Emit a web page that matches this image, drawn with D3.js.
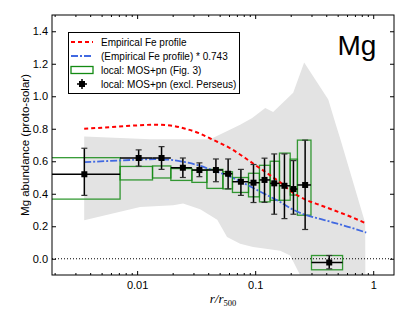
<!DOCTYPE html>
<html>
<head>
<meta charset="utf-8">
<script src="https://cdn.jsdelivr.net/npm/d3@7"></script>
<style>
body { margin: 0; background: #fff; }
svg text { font-family: "Liberation Sans", Arial, sans-serif; }
</style>
</head>
<body>
<svg id="chart"></svg>
<script>
var svg_width = 415, svg_height = 313;
var plotLeft = 52, plotRight = 394, plotTop = 15, plotBottom = 275;

// bins of the local measurements (r/r500)
var binLo = [0.001, 0.00717, 0.0135, 0.0193, 0.0291, 0.039, 0.0533, 0.0642, 0.0878, 0.1087, 0.134, 0.1606, 0.198, 0.228, 0.30];
var binHi = [0.00717, 0.0135, 0.0193, 0.0291, 0.039, 0.0533, 0.0642, 0.0878, 0.1087, 0.134, 0.1606, 0.198, 0.228, 0.297, 0.55];

// local: MOS+pn (excl. Perseus)
var ptR = [0.00357, 0.0103, 0.0161, 0.0244, 0.0337, 0.0465, 0.059, 0.0757, 0.0968, 0.120, 0.145, 0.177, 0.211, 0.265, 0.424];
var ptMg = [0.52, 0.62, 0.62, 0.56, 0.546, 0.546, 0.523, 0.474, 0.468, 0.485, 0.464, 0.449, 0.429, 0.454, -0.023];
var ptMgLo = [0.39, 0.57, 0.55, 0.50, 0.505, 0.474, 0.43, 0.39, 0.346, 0.347, 0.274, 0.247, 0.274, 0.18, -0.062];
var ptMgHi = [0.68, 0.67, 0.69, 0.62, 0.59, 0.614, 0.614, 0.55, 0.58, 0.619, 0.645, 0.645, 0.604, 0.73, 0.02];

// local: MOS+pn (Fig. 3)
var boxLo = [0.367, 0.485, 0.497, 0.482, 0.47, 0.433, 0.43, 0.408, 0.381, 0.35, 0.36, 0.36, 0.392, 0.268, -0.068];
var boxHi = [0.622, 0.568, 0.571, 0.555, 0.545, 0.55, 0.535, 0.50, 0.526, 0.575, 0.60, 0.65, 0.613, 0.73, 0.02];

// empirical Fe profile and the scaled one
var feR = [0.00356, 0.0059, 0.0096, 0.0142, 0.0191, 0.0256, 0.0342, 0.0416, 0.0477, 0.0614, 0.0823, 0.1, 0.1265, 0.163, 0.206, 0.265, 0.356, 0.458, 0.638, 0.873];
var feMg = [0.80, 0.81, 0.82, 0.825, 0.82, 0.80, 0.77, 0.74, 0.72, 0.68, 0.62, 0.577, 0.526, 0.47, 0.41, 0.365, 0.33, 0.30, 0.26, 0.217];
var feScaled = [0.594, 0.602, 0.609, 0.613, 0.609, 0.594, 0.572, 0.550, 0.535, 0.505, 0.461, 0.429, 0.391, 0.349, 0.305, 0.271, 0.245, 0.223, 0.193, 0.161];

// grey scatter band
var bandUpR = [0.00356, 0.0129, 0.0416, 0.0746, 0.0944, 0.1217, 0.142, 0.210, 0.260, 0.416, 0.477, 0.525, 0.855, 0.86];
var bandUp = [0.752, 0.735, 0.735, 0.825, 0.866, 0.928, 0.903, 1.021, 1.207, 0.98, 0.837, 0.74, 0.22, -0.3];
var bandLoR = [0.00356, 0.0106, 0.0202, 0.0245, 0.0342, 0.0477, 0.0578, 0.0746, 0.096, 0.163, 0.198, 0.240, 0.26];
var bandLo = [0.237, 0.319, 0.33, 0.34, 0.305, 0.24, 0.134, 0.093, 0.072, 0.05, 0.02, -0.1, -0.3];

var yTicks = [0, 0.2, 0.4, 0.6, 0.8, 1.0, 1.2, 1.4];
var xTicks = [0.01, 0.1, 1];

var x = d3.scaleLog().domain([0.0019, 1.5]).range([plotLeft, plotRight]);
var y = d3.scaleLinear().domain([-0.1, 1.5]).range([plotBottom, plotTop]);

var svg = d3.select("#chart")
	.attr("width", svg_width)
	.attr("height", svg_height);

svg.append("clipPath").attr("id", "plotclip")
	.append("rect")
	.attr("x", plotLeft).attr("y", plotTop)
	.attr("width", plotRight - plotLeft).attr("height", plotBottom - plotTop);

var plot = svg.append("g").attr("clip-path", "url(#plotclip)");

// grey band
var band = [];
for (var i = 0; i < bandUpR.length; i++) band.push([bandUpR[i], bandUp[i]]);
for (var i = bandLoR.length - 1; i >= 0; i--) band.push([bandLoR[i], bandLo[i]]);

var line = d3.line()
	.x(function (d) { return x(d[0]) })
	.y(function (d) { return y(d[1]) });

plot.append("path")
	.datum(band)
	.attr("fill", "#e3e3e3")
	.attr("stroke", "none")
	.attr("d", function (d) { return line(d) + "Z" });

// zero line
plot.append("line")
	.attr("x1", plotLeft).attr("x2", plotRight)
	.attr("y1", y(0)).attr("y2", y(0))
	.attr("stroke", "#000")
	.attr("stroke-width", 1)
	.attr("stroke-dasharray", "1,2");

// green boxes
plot.selectAll(".box")
	.data(binLo)
	.enter().append("rect")
	.attr("class", "box")
	.attr("x", function (d, i) { return x(binLo[i]) })
	.attr("width", function (d, i) { return x(binHi[i]) - x(binLo[i]) })
	.attr("y", function (d, i) { return y(boxHi[i]) })
	.attr("height", function (d, i) { return y(boxLo[i]) - y(boxHi[i]) })
	.attr("fill", "none")
	.attr("stroke", "#138a13")
	.attr("stroke-opacity", 0.85)
	.attr("stroke-width", 1.3);

// Fe profiles
var feLine = d3.line()
	.x(function (d, i) { return x(feR[i]) })
	.y(function (d) { return y(d) })
	.curve(d3.curveMonotoneX);

plot.append("path")
	.datum(feMg)
	.attr("fill", "none")
	.attr("stroke", "#ff0000")
	.attr("stroke-width", 2)
	.attr("stroke-dasharray", "4,3")
	.attr("d", feLine);

plot.append("path")
	.datum(feScaled)
	.attr("fill", "none")
	.attr("stroke", "#4169e1")
	.attr("stroke-width", 1.8)
	.attr("stroke-dasharray", "7,2,2,2")
	.attr("d", feLine);

// black error bars
var pts = plot.selectAll(".pt")
	.data(ptR)
	.enter().append("g")
	.attr("class", "pt");

pts.append("line")
	.attr("x1", function (d, i) { return x(binLo[i]) })
	.attr("x2", function (d, i) { return x(binHi[i]) })
	.attr("y1", function (d, i) { return y(ptMg[i]) })
	.attr("y2", function (d, i) { return y(ptMg[i]) })
	.attr("stroke", "#000").attr("stroke-width", 1.5);

pts.append("line")
	.attr("x1", function (d) { return x(d) })
	.attr("x2", function (d) { return x(d) })
	.attr("y1", function (d, i) { return y(ptMgLo[i]) })
	.attr("y2", function (d, i) { return y(ptMgHi[i]) })
	.attr("stroke", "#000").attr("stroke-width", 1.5);

[ptMgLo, ptMgHi].forEach(function (arr) {
	pts.append("line")
		.attr("x1", function (d) { return x(d) - 3 })
		.attr("x2", function (d) { return x(d) + 3 })
		.attr("y1", function (d, i) { return y(arr[i]) })
		.attr("y2", function (d, i) { return y(arr[i]) })
		.attr("stroke", "#333").attr("stroke-width", 1.2);
});

pts.append("rect")
	.attr("x", function (d) { return x(d) - 3 })
	.attr("y", function (d, i) { return y(ptMg[i]) - 3 })
	.attr("width", 6).attr("height", 6)
	.attr("fill", "#000");

// axes, ticks pointing inward
var minor = x.ticks().filter(function (t) { return xTicks.indexOf(t) < 0 });
var fmt = d3.format(".1f");

svg.append("g")
	.attr("transform", "translate(0," + plotBottom + ")")
	.call(d3.axisBottom(x).tickValues(xTicks).tickSize(-4).tickPadding(6).tickFormat(function (d) { return d }))
	.call(function (g) { g.select(".domain").remove() });
svg.append("g")
	.attr("transform", "translate(0," + plotBottom + ")")
	.call(d3.axisBottom(x).tickValues(minor).tickSize(-2).tickFormat(""))
	.call(function (g) { g.select(".domain").remove() });
svg.append("g")
	.attr("transform", "translate(0," + plotTop + ")")
	.call(d3.axisTop(x).tickValues(xTicks).tickSize(-4).tickFormat(""))
	.call(function (g) { g.select(".domain").remove() });
svg.append("g")
	.attr("transform", "translate(0," + plotTop + ")")
	.call(d3.axisTop(x).tickValues(minor).tickSize(-2).tickFormat(""))
	.call(function (g) { g.select(".domain").remove() });
svg.append("g")
	.attr("transform", "translate(" + plotLeft + ",0)")
	.call(d3.axisLeft(y).tickValues(yTicks).tickSize(-4).tickPadding(4).tickFormat(fmt))
	.call(function (g) { g.select(".domain").remove() });
svg.append("g")
	.attr("transform", "translate(" + plotRight + ",0)")
	.call(d3.axisRight(y).tickValues(yTicks).tickSize(-4).tickFormat(""))
	.call(function (g) { g.select(".domain").remove() });

svg.selectAll(".tick text")
	.attr("font-size", 11)
	.attr("font-family", "Liberation Sans, Arial, sans-serif")
	.attr("fill", "#000");
svg.selectAll(".tick line").attr("stroke", "#000");

svg.append("rect")
	.attr("x", plotLeft).attr("y", plotTop)
	.attr("width", plotRight - plotLeft).attr("height", plotBottom - plotTop)
	.attr("fill", "none")
	.attr("stroke", "#000")
	.attr("stroke-width", 1);

// labels
svg.append("text")
	.attr("transform", "translate(25," + ((plotTop + plotBottom) / 2) + ") rotate(-90)")
	.attr("text-anchor", "middle")
	.attr("dy", "0.35em")
	.attr("font-size", 11.5)
	.text("Mg abundance (proto-solar)");

var xl = svg.append("text")
	.attr("x", (plotLeft + plotRight) / 2)
	.attr("y", 303)
	.attr("text-anchor", "middle")
	.style("font-family", "'Liberation Serif', 'DejaVu Serif', serif")
	.attr("font-size", 13);
xl.append("tspan").attr("font-style", "italic").text("r/r");
xl.append("tspan").attr("font-size", 8.5).attr("dy", 3).text("500");

svg.append("text")
	.attr("x", 357)
	.attr("y", 55)
	.attr("text-anchor", "middle")
	.attr("font-size", 28)
	.text("Mg");

// legend
var lg = svg.append("g");
lg.append("rect")
	.attr("x", 68.5).attr("y", 32.5)
	.attr("width", 171).attr("height", 61)
	.attr("fill", "#fff")
	.attr("stroke", "#000")
	.attr("stroke-width", 1);

var legendLabels = ["Empirical Fe profile", "(Empirical Fe profile) * 0.743", "local: MOS+pn (Fig. 3)", "local: MOS+pn (excl. Perseus)"];
var ly = [42, 56, 70, 84];

lg.append("line")
	.attr("x1", 71).attr("x2", 93).attr("y1", ly[0]).attr("y2", ly[0])
	.attr("stroke", "#ff0000").attr("stroke-width", 2).attr("stroke-dasharray", "4,3");
lg.append("line")
	.attr("x1", 71).attr("x2", 93).attr("y1", ly[1]).attr("y2", ly[1])
	.attr("stroke", "#4169e1").attr("stroke-width", 1.8).attr("stroke-dasharray", "7,2,2,2");
lg.append("rect")
	.attr("x", 71).attr("y", ly[2] - 3.5).attr("width", 22).attr("height", 7)
	.attr("fill", "none").attr("stroke", "#138a13").attr("stroke-width", 1.3);
lg.append("line")
	.attr("x1", 77).attr("x2", 87).attr("y1", ly[3]).attr("y2", ly[3])
	.attr("stroke", "#000").attr("stroke-width", 1.5);
lg.append("line")
	.attr("x1", 82).attr("x2", 82).attr("y1", ly[3] - 5).attr("y2", ly[3] + 5)
	.attr("stroke", "#000").attr("stroke-width", 1.5);
lg.append("rect")
	.attr("x", 79).attr("y", ly[3] - 3).attr("width", 6).attr("height", 6)
	.attr("fill", "#000");

lg.selectAll(".lt")
	.data(legendLabels)
	.enter().append("text")
	.attr("class", "lt")
	.attr("x", 101)
	.attr("y", function (d, i) { return ly[i] })
	.attr("dy", "0.35em")
	.attr("font-size", 10)
	.text(function (d) { return d });
</script>
</body>
</html>
